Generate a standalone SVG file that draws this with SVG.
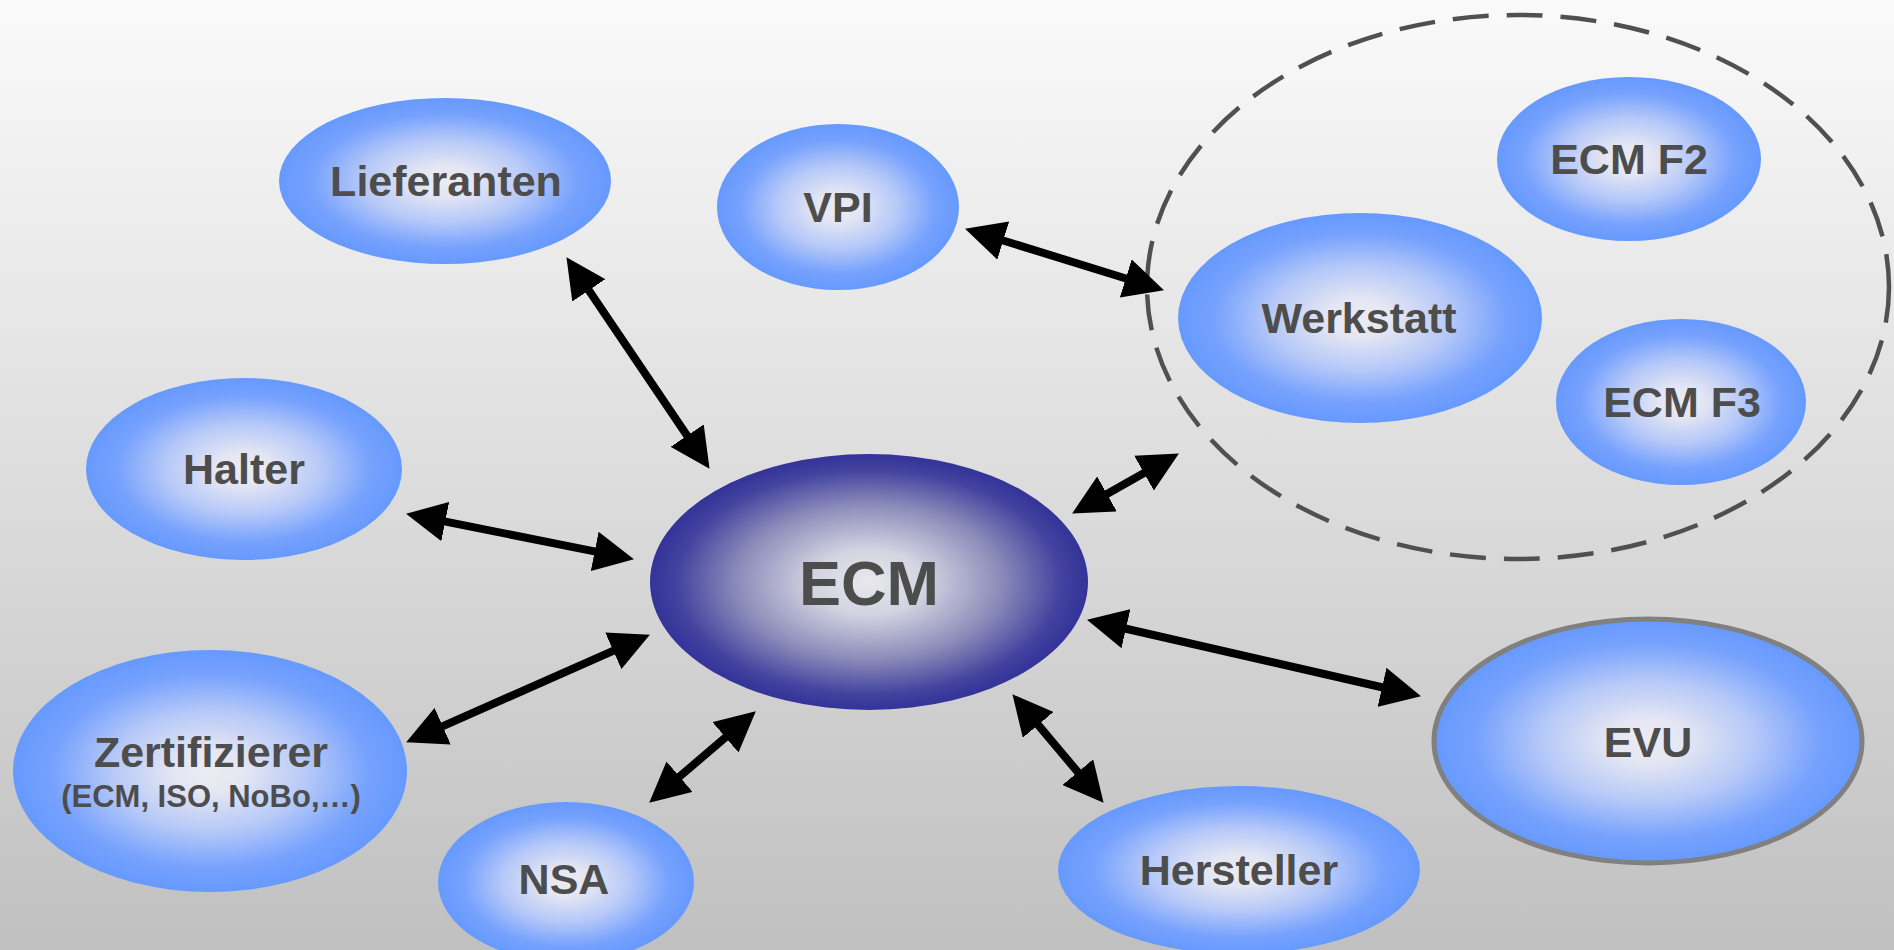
<svg xmlns="http://www.w3.org/2000/svg" width="1894" height="950" viewBox="0 0 1894 950">
  <defs>
    <linearGradient id="bg" x1="0" y1="0" x2="0" y2="1">
      <stop offset="0" stop-color="#fafafa"/>
      <stop offset="1" stop-color="#c0c0c0"/>
    </linearGradient>
    <radialGradient id="blue" cx="50%" cy="50%" r="50%">
      <stop offset="0" stop-color="#ececf0"/>
      <stop offset="0.18" stop-color="#e4e6f3"/>
      <stop offset="0.5" stop-color="#b5c8f8"/>
      <stop offset="0.8" stop-color="#77a2fd"/>
      <stop offset="1" stop-color="#6699ff"/>
    </radialGradient>
    <radialGradient id="dark" cx="50%" cy="50%" r="50%">
      <stop offset="0" stop-color="#e8e8ec"/>
      <stop offset="0.25" stop-color="#d4d4e2"/>
      <stop offset="0.6" stop-color="#8c8cba"/>
      <stop offset="0.88" stop-color="#42429f"/>
      <stop offset="1" stop-color="#333399"/>
    </radialGradient>
    <marker id="ah" viewBox="0 0 40 40" markerUnits="userSpaceOnUse" markerWidth="40" markerHeight="40" refX="1" refY="20" orient="auto-start-reverse">
      <path d="M0,0 L40,20 L0,40 z" fill="#000"/>
    </marker>
    <style>
      .node { fill: url(#blue); }
      .lbl { font-family: "Liberation Sans", Arial, sans-serif; font-weight: bold; fill: #4d4d4d; text-anchor: middle; font-size: 43px; }
      .con { stroke: #000; stroke-width: 8; fill: none; marker-start: url(#ah); marker-end: url(#ah); }
    </style>
  </defs>
  <rect x="0" y="0" width="1894" height="950" fill="url(#bg)"/>

  <g id="group-werkstatt">
    <ellipse cx="1518" cy="287" rx="371" ry="272" fill="none" stroke="#505050" stroke-width="4.5" stroke-dasharray="36 18"/>
  </g>

  <g id="node-lieferanten">
    <ellipse class="node" cx="445" cy="181" rx="166" ry="83"/>
    <text class="lbl" x="446" y="196">Lieferanten</text>
  </g>
  <g id="node-vpi">
    <ellipse class="node" cx="838" cy="207" rx="121" ry="83"/>
    <text class="lbl" x="838" y="222">VPI</text>
  </g>
  <g id="node-ecmf2">
    <ellipse class="node" cx="1629" cy="159" rx="132" ry="82"/>
    <text class="lbl" x="1629" y="174">ECM F2</text>
  </g>
  <g id="node-werkstatt">
    <ellipse class="node" cx="1360" cy="318" rx="182" ry="105"/>
    <text class="lbl" x="1359" y="333">Werkstatt</text>
  </g>
  <g id="node-ecmf3">
    <ellipse class="node" cx="1681" cy="402" rx="125" ry="83"/>
    <text class="lbl" x="1682" y="417">ECM F3</text>
  </g>
  <g id="node-halter">
    <ellipse class="node" cx="244" cy="469" rx="158" ry="91"/>
    <text class="lbl" x="244" y="484">Halter</text>
  </g>
  <g id="node-ecm">
    <ellipse cx="869" cy="582" rx="219" ry="128" fill="url(#dark)"/>
    <text class="lbl" x="869" y="605" style="font-size:63px">ECM</text>
  </g>
  <g id="node-zertifizierer">
    <ellipse class="node" cx="210" cy="771" rx="197" ry="121"/>
    <text class="lbl" x="211" y="767">Zertifizierer</text>
    <text class="lbl" x="211" y="807" style="font-size:31px">(ECM, ISO, NoBo,…)</text>
  </g>
  <g id="node-nsa">
    <ellipse class="node" cx="566" cy="882" rx="128" ry="80"/>
    <text class="lbl" x="564" y="894">NSA</text>
  </g>
  <g id="node-hersteller">
    <ellipse class="node" cx="1239" cy="870" rx="181" ry="84"/>
    <text class="lbl" x="1239" y="885">Hersteller</text>
  </g>
  <g id="node-evu">
    <ellipse class="node" cx="1648" cy="741" rx="214" ry="122" stroke="#808080" stroke-width="5"/>
    <text class="lbl" x="1648" y="757">EVU</text>
  </g>

  <g id="connectors">
    <line class="con" x1="588.3" y1="289.5" x2="687.7" y2="436.5"/>
    <line class="con" x1="1002.3" y1="240.2" x2="1126.7" y2="278.8"/>
    <line class="con" x1="1106.1" y1="494.4" x2="1144.9" y2="472.6"/>
    <line class="con" x1="444.3" y1="521.4" x2="595.7" y2="551.6"/>
    <line class="con" x1="441.8" y1="726.6" x2="614.2" y2="650.4"/>
    <line class="con" x1="678.8" y1="777.3" x2="726.2" y2="736.7"/>
    <line class="con" x1="1037.5" y1="724.1" x2="1078.5" y2="772.9"/>
    <line class="con" x1="1125" y1="628.5" x2="1383" y2="687.5"/>
  </g>
</svg>
